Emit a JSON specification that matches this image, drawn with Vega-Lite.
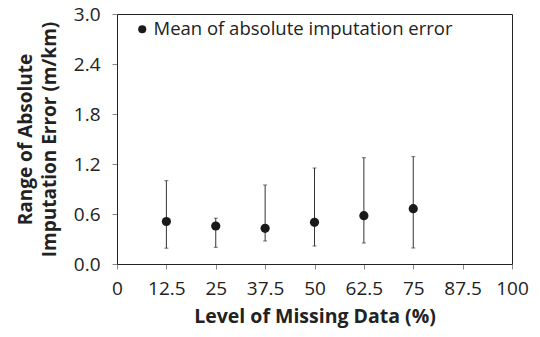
{
  "$schema": "https://vega.github.io/schema/vega-lite/v6.json",
  "width": 395,
  "height": 250,
  "autosize": "none",
  "padding": {"left": 117, "top": 14, "right": 28, "bottom": 73},
  "background": "white",
  "config": {
    "font": "Open Sans",
    "view": {"stroke": "#222", "strokeWidth": 1},
    "axis": {"grid": false, "domainColor": "#222", "tickColor": "#888", "labelColor": "#222", "titleColor": "#222", "labelFont": "Open Sans", "titleFont": "Open Sans"}
  },
  "data": {
    "values": [
      {"level": 12.5, "mean": 0.51, "lo": 0.19, "hi": 1.0, "series": "Mean of absolute imputation error"},
      {"level": 25, "mean": 0.456, "lo": 0.2, "hi": 0.55, "series": "Mean of absolute imputation error"},
      {"level": 37.5, "mean": 0.428, "lo": 0.276, "hi": 0.948, "series": "Mean of absolute imputation error"},
      {"level": 50, "mean": 0.5, "lo": 0.216, "hi": 1.152, "series": "Mean of absolute imputation error"},
      {"level": 62.5, "mean": 0.58, "lo": 0.252, "hi": 1.276, "series": "Mean of absolute imputation error"},
      {"level": 75, "mean": 0.664, "lo": 0.192, "hi": 1.288, "series": "Mean of absolute imputation error"}
    ]
  },
  "encoding": {
    "x": {
      "field": "level", "type": "quantitative",
      "scale": {"domain": [0, 100], "nice": false},
      "axis": {
        "values": [0, 12.5, 25, 37.5, 50, 62.5, 75, 87.5, 100],
        "labelExpr": "datum.value",
        "title": "Level of Missing Data (%)",
        "labelFontSize": 19, "titleFontSize": 19.5, "titleFontWeight": "bold",
        "tickSize": 5, "labelPadding": 10, "titlePadding": 9, "labelFlush": false
      }
    }
  },
  "layer": [
    {
      "mark": {"type": "rule", "color": "#333", "strokeWidth": 1},
      "encoding": {
        "y": {
          "field": "lo", "type": "quantitative",
          "scale": {"domain": [0, 3], "nice": false},
          "axis": {
            "values": [0, 0.6, 1.2, 1.8, 2.4, 3.0],
            "format": ".1f",
            "title": ["Range of Absolute", "Imputation Error (m/km)"],
            "labelFontSize": 19, "titleFontSize": 19, "titleFontWeight": "bold",
            "tickSize": 5, "labelPadding": 12, "titlePadding": 14, "titleLineHeight": 24, "labelFlush": false
          }
        },
        "y2": {"field": "hi"}
      }
    },
    {
      "mark": {"type": "tick", "color": "#333", "thickness": 1, "size": 4, "orient": "horizontal"},
      "encoding": {"y": {"field": "lo", "type": "quantitative"}}
    },
    {
      "mark": {"type": "tick", "color": "#333", "thickness": 1, "size": 4, "orient": "horizontal"},
      "encoding": {"y": {"field": "hi", "type": "quantitative"}}
    },
    {
      "mark": {"type": "point", "filled": true, "opacity": 1, "size": 85, "shape": "circle"},
      "encoding": {
        "y": {"field": "mean", "type": "quantitative"},
        "color": {
          "field": "series", "type": "nominal",
          "scale": {"range": ["#1a1a1a"]},
          "legend": {
            "title": null, "orient": "none", "legendX": 16, "legendY": 6,
            "symbolType": "circle", "symbolSize": 65, "symbolFillColor": "#1a1a1a", "symbolStrokeWidth": 0,
            "labelFontSize": 18.5, "labelColor": "#222", "labelLimit": 400, "symbolOffset": 0, "labelOffset": 2
          }
        }
      }
    }
  ]
}
